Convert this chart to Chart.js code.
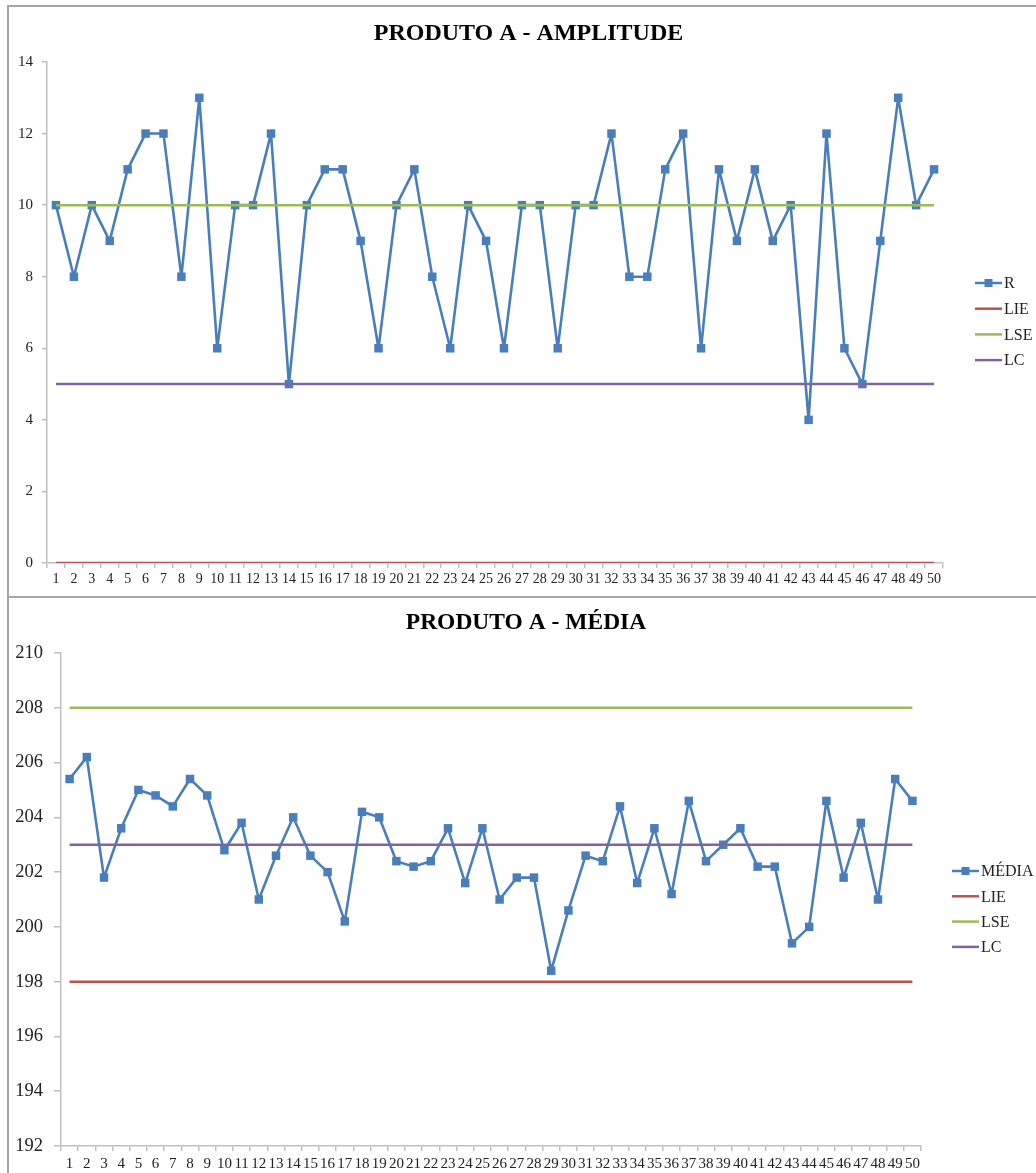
<!DOCTYPE html>
<html lang="pt">
<head>
<meta charset="utf-8">
<title>Produto A - Amplitude e Média</title>
<script src="https://cdn.jsdelivr.net/npm/chart.js@4/dist/chart.umd.min.js"></script>
<style>
  html, body { margin: 0; padding: 0; background: #fff; overflow: hidden; }
  .panel { position: absolute; left: 7px; width: 1040px; border: 2px solid #a6a6a6; background: #fff; }
  #panelR { top: 5px; height: 589px; }
  #panelX { top: 596px; height: 590px; }
  canvas { display: block; }
</style>
</head>
<body>
<div class="panel" id="panelR"><canvas id="chartR" width="1027" height="589"></canvas></div>
<div class="panel" id="panelX"><canvas id="chartX" width="1027" height="575"></canvas></div>
<script>
const samples = [
    "1", "2", "3", "4", "5", "6", "7", "8", "9", "10",
    "11", "12", "13", "14", "15", "16", "17", "18", "19", "20",
    "21", "22", "23", "24", "25", "26", "27", "28", "29", "30",
    "31", "32", "33", "34", "35", "36", "37", "38", "39", "40",
    "41", "42", "43", "44", "45", "46", "47", "48", "49", "50",
];

// amplitude (R) of each sample
const amplitude = [
    10, 8, 10, 9, 11, 12, 12, 8, 13, 6,
    10, 10, 12, 5, 10, 11, 11, 9, 6, 10,
    11, 8, 6, 10, 9, 6, 10, 10, 6, 10,
    10, 12, 8, 8, 11, 12, 6, 11, 9, 11,
    9, 10, 4, 12, 6, 5, 9, 13, 10, 11,
];

// mean of each sample
const media = [
    205.4, 206.2, 201.8, 203.6, 205.0, 204.8, 204.4, 205.4, 204.8, 202.8,
    203.8, 201.0, 202.6, 204.0, 202.6, 202.0, 200.2, 204.2, 204.0, 202.4,
    202.2, 202.4, 203.6, 201.6, 203.6, 201.0, 201.8, 201.8, 198.4, 200.6,
    202.6, 202.4, 204.4, 201.6, 203.6, 201.2, 204.6, 202.4, 203.0, 203.6,
    202.2, 202.2, 199.4, 200.0, 204.6, 201.8, 203.8, 201.0, 205.4, 204.6,
];

// control limits
const rLIE = 0, rLSE = 10, rLC = 5;
const xLIE = 198, xLSE = 208, xLC = 203;

// y axis ranges
const rAxis = [0, 14, 2];
const xAxis = [192, 210, 2];

const BLUE = "#4a7ebb";
const RED = "#c0504d";
const GREEN = "#9bbb59";
const PURPLE = "#8064a2";
const AXIS = "#bfbfbf";
const TEXT = "#222";
const SERIF = '"Liberation Serif", "Times New Roman", serif';

// title and legend, Excel style (legend beside the plot, title centred on the sheet)
const titleAndKey = {
    id: "titleAndKey",
    afterDraw(chart, args, opts) {
        const { ctx, chartArea } = chart;
        ctx.save();
        ctx.fillStyle = "#000";
        ctx.font = `bold ${opts.titleSize}px ${SERIF}`;
        ctx.textAlign = "center";
        ctx.textBaseline = "middle";
        ctx.fillText(opts.title, opts.titleX, opts.titleY);

        ctx.font = `16px ${SERIF}`;
        ctx.textAlign = "left";
        const x = chartArea.right + opts.keyOffset;
        chart.data.datasets.forEach((ds, i) => {
            const y = opts.keyY + i * opts.keyGap;
            ctx.strokeStyle = ds.borderColor;
            ctx.lineWidth = 2.5;
            ctx.beginPath();
            ctx.moveTo(x, y);
            ctx.lineTo(x + 27, y);
            ctx.stroke();
            if (ds.pointRadius > 0) {
                ctx.fillStyle = ds.borderColor;
                ctx.fillRect(x + 9.5, y - 4, 8, 8);
            }
            ctx.fillStyle = TEXT;
            ctx.fillText(ds.label, x + 29, y + 1);
        });
        ctx.restore();
    },
};

function limitLine(label, value, color) {
    return {
        label,
        data: samples.map(() => value),
        borderColor: color,
        backgroundColor: color,
        borderWidth: 2.5,
        pointRadius: 0,
        pointHoverRadius: 0,
        order: 0,
    };
}

function controlChart(canvasId, seriesLabel, values, limits, range, look) {
    return new Chart(document.getElementById(canvasId), {
        type: "line",
        data: {
            labels: samples,
            datasets: [
                {
                    label: seriesLabel,
                    data: values,
                    borderColor: BLUE,
                    backgroundColor: BLUE,
                    borderWidth: 2.6,
                    borderJoinStyle: "round",
                    tension: 0,
                    pointStyle: "rect",
                    pointRadius: 6,
                    pointBorderWidth: 0,
                    pointHoverRadius: 6,
                    order: 1,
                },
                limitLine("LIE", limits[0], RED),
                limitLine("LSE", limits[1], GREEN),
                limitLine("LC", limits[2], PURPLE),
            ],
        },
        options: {
            responsive: false,
            animation: false,
            layout: {
                padding: { top: look.top, right: look.right, bottom: 0, left: 0 },
            },
            scales: {
                x: {
                    offset: true,
                    grid: {
                        offset: true,
                        drawOnChartArea: false,
                        tickLength: 5,
                        color: AXIS,
                        lineWidth: 1.5,
                    },
                    border: { color: AXIS, width: 1.5 },
                    ticks: {
                        autoSkip: false,
                        maxRotation: 0,
                        padding: look.xPad,
                        color: TEXT,
                        font: { family: SERIF, size: look.xFont },
                    },
                    afterFit: (scale) => {
                        scale.height = look.xHeight;
                    },
                },
                y: {
                    min: range[0],
                    max: range[1],
                    grid: {
                        drawOnChartArea: false,
                        tickLength: look.yTick,
                        color: AXIS,
                        lineWidth: 1.5,
                    },
                    border: { color: AXIS, width: 1.5 },
                    ticks: {
                        stepSize: range[2],
                        padding: look.yPad,
                        color: TEXT,
                        font: { family: SERIF, size: look.yFont },
                    },
                    afterFit: (scale) => {
                        scale.width = look.yWidth;
                    },
                },
            },
            plugins: {
                legend: { display: false },
                tooltip: { enabled: false },
                titleAndKey: {
                    title: look.title,
                    titleSize: look.titleSize,
                    titleX: look.titleX,
                    titleY: look.titleY,
                    keyOffset: look.keyOffset,
                    keyY: look.keyY,
                    keyGap: look.keyGap,
                },
            },
        },
        plugins: [titleAndKey],
    });
}

controlChart("chartR", "R", amplitude, [rLIE, rLSE, rLC], rAxis, {
    title: "PRODUTO A - AMPLITUDE",
    titleSize: 24,
    titleX: 519.5,
    titleY: 26.5,
    top: 55,
    right: 93,
    xHeight: 33,
    xFont: 14,
    xPad: 3,
    yWidth: 38,
    yFont: 15,
    yPad: 9,
    yTick: 5,
    keyOffset: 32,
    keyY: 276,
    keyGap: 25.7,
});

controlChart("chartX", "MÉDIA", media, [xLIE, xLSE, xLC], xAxis, {
    title: "PRODUTO A - MÉDIA",
    titleSize: 23.5,
    titleX: 517,
    titleY: 25,
    top: 55,
    right: 115,
    xHeight: 27,
    xFont: 15,
    xPad: 4,
    yWidth: 52,
    yFont: 18.5,
    yPad: 11,
    yTick: 7,
    keyOffset: 31,
    keyY: 273,
    keyGap: 25.3,
});
</script>
</body>
</html>
